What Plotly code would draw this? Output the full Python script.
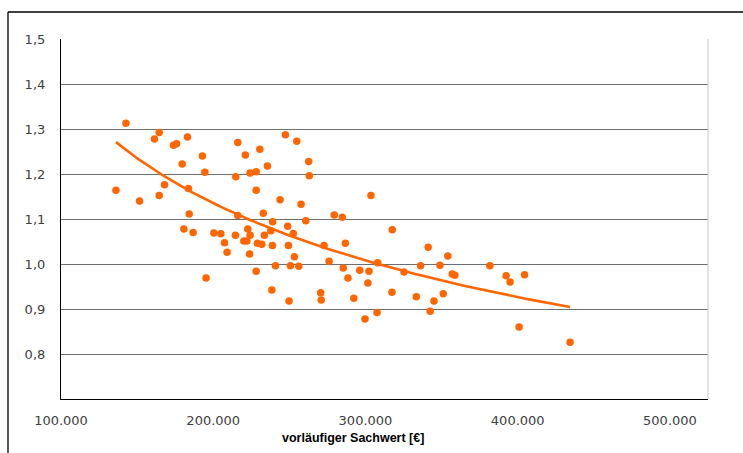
import numpy as np
import plotly.graph_objects as go

# vorläufiger Sachwert [€]
sachwert = [
    142650, 161400, 164500, 173900, 175900, 183100, 179600, 192900, 194500, 136100,
    151600, 164500, 168000, 183700, 184200, 180700, 186800, 195300, 216100, 221100,
    230600, 235600, 214800, 224200, 228200, 228200, 247400, 254900, 262700, 263100,
    243900, 257700, 232900, 216100, 239000, 248900, 260800, 237800, 252600, 222700,
    200400, 205000, 214600, 224200, 233600, 207400, 220100, 222100, 229000, 231900,
    238900, 249400, 209100, 223900, 253300, 240900, 250700, 256200, 228200, 238500,
    249800, 270600, 279500, 284800, 272800, 286800, 276100, 285400, 288500, 270900,
    303600, 317600, 296200, 302300, 301600, 308000, 325300, 336200, 341200, 348900,
    354100, 357000, 358700, 381700, 392400, 395000, 404500, 292300, 299700, 307600,
    317400, 333400, 342500, 345000, 351100, 400900, 434400,
]
# Faktor
faktor = [
    1.313, 1.278, 1.292, 1.264, 1.267, 1.282, 1.222, 1.240, 1.204, 1.164,
    1.140, 1.152, 1.176, 1.168, 1.111, 1.078, 1.070, 0.969, 1.270, 1.242,
    1.255, 1.218, 1.194, 1.202, 1.205, 1.164, 1.287, 1.273, 1.228, 1.196,
    1.143, 1.133, 1.113, 1.108, 1.094, 1.084, 1.096, 1.074, 1.068, 1.078,
    1.069, 1.067, 1.064, 1.064, 1.064, 1.047, 1.051, 1.051, 1.046, 1.044,
    1.041, 1.041, 1.026, 1.022, 1.016, 0.996, 0.996, 0.995, 0.984, 0.942,
    0.918, 0.936, 1.109, 1.104, 1.041, 1.046, 1.006, 0.991, 0.969, 0.920,
    1.152, 1.076, 0.986, 0.984, 0.958, 1.003, 0.982, 0.996, 1.037, 0.997,
    1.018, 0.978, 0.975, 0.996, 0.974, 0.960, 0.976, 0.924, 0.878, 0.892,
    0.937, 0.927, 0.895, 0.918, 0.934, 0.860, 0.826,
]

x_ticks = [100000, 200000, 300000, 400000, 500000]
x_tick_labels = ["100.000", "200.000", "300.000", "400.000", "500.000"]
y_ticks = [0.8, 0.9, 1.0, 1.1, 1.2, 1.3, 1.4, 1.5]
y_tick_labels = ["0,8", "0,9", "1,0", "1,1", "1,2", "1,3", "1,4", "1,5"]

ORANGE = "#FF6600"

# power trendline (as in Excel): y = a * x^b, least squares in log-log space
xs = np.array(sachwert, dtype=float)
ys = np.array(faktor, dtype=float)
b, ln_a = np.polyfit(np.log(xs), np.log(ys), 1)
tx = np.linspace(xs.min(), xs.max(), 200)
ty = np.exp(ln_a) * tx ** b

fig = go.Figure()
fig.add_trace(go.Scatter(
    x=sachwert, y=faktor, mode="markers",
    marker=dict(color=ORANGE, size=7.5, line=dict(width=0)),
    showlegend=False, hoverinfo="x+y",
))
fig.add_trace(go.Scatter(
    x=tx, y=ty, mode="lines",
    line=dict(color=ORANGE, width=2.6),
    showlegend=False, hoverinfo="skip",
))

W, H = 743, 453
L, R, T, B = 61, 35, 39, 54
pw, ph = W - L - R, H - T - B

tick_font = dict(family="DejaVu Sans, sans-serif", size=13, color="#404040")

fig.update_layout(
    width=W, height=H,
    margin=dict(l=L, r=R, t=T, b=B, pad=0),
    paper_bgcolor="white", plot_bgcolor="white",
    xaxis=dict(
        range=[100000, 525000], tickmode="array", tickvals=x_ticks, ticktext=x_tick_labels,
        showgrid=False, zeroline=False, showline=True, linecolor="black", linewidth=1.2,
        ticks="", tickfont=tick_font, ticklabelstandoff=9,
        mirror=False,
    ),
    yaxis=dict(
        range=[0.7, 1.5], tickmode="array", tickvals=y_ticks, ticktext=y_tick_labels,
        showgrid=True, gridcolor="#6e6e6e", gridwidth=1, zeroline=False,
        showline=True, linecolor="black", linewidth=1.2,
        ticks="", tickfont=tick_font, ticklabelstandoff=12,
    ),
    font=dict(family="DejaVu Sans, sans-serif"),
)

# plot area right border (light gray)
fig.add_shape(type="line", xref="paper", yref="paper", x0=1, x1=1, y0=0, y1=1,
              line=dict(color="#c8c8c8", width=1))

# outer chart frame (cropped)
fx0 = (8 - L) / pw
fy_top = 1 + (T - 12) / ph
fig.add_shape(type="line", xref="paper", yref="paper", x0=fx0, x1=fx0,
              y0=-0.3, y1=fy_top, line=dict(color="black", width=1.3))
fig.add_shape(type="line", xref="paper", yref="paper", x0=fx0, x1=1.2,
              y0=fy_top, y1=fy_top, line=dict(color="black", width=1.3))

# axis title
fig.add_annotation(
    text="<b>vorläufiger Sachwert [€]</b>", xref="paper", yref="paper",
    x=(353 - L) / pw, y=(H - B - 438) / ph, xanchor="center", yanchor="middle",
    showarrow=False,
    font=dict(family="Liberation Sans Narrow, Arial Narrow, sans-serif", size=12.5, color="#000000"),
)

fig.write_html(
    "out.html",
    config={"displayModeBar": False},
    post_script="document.body.style.margin='0';document.body.style.overflow='hidden';",
)
